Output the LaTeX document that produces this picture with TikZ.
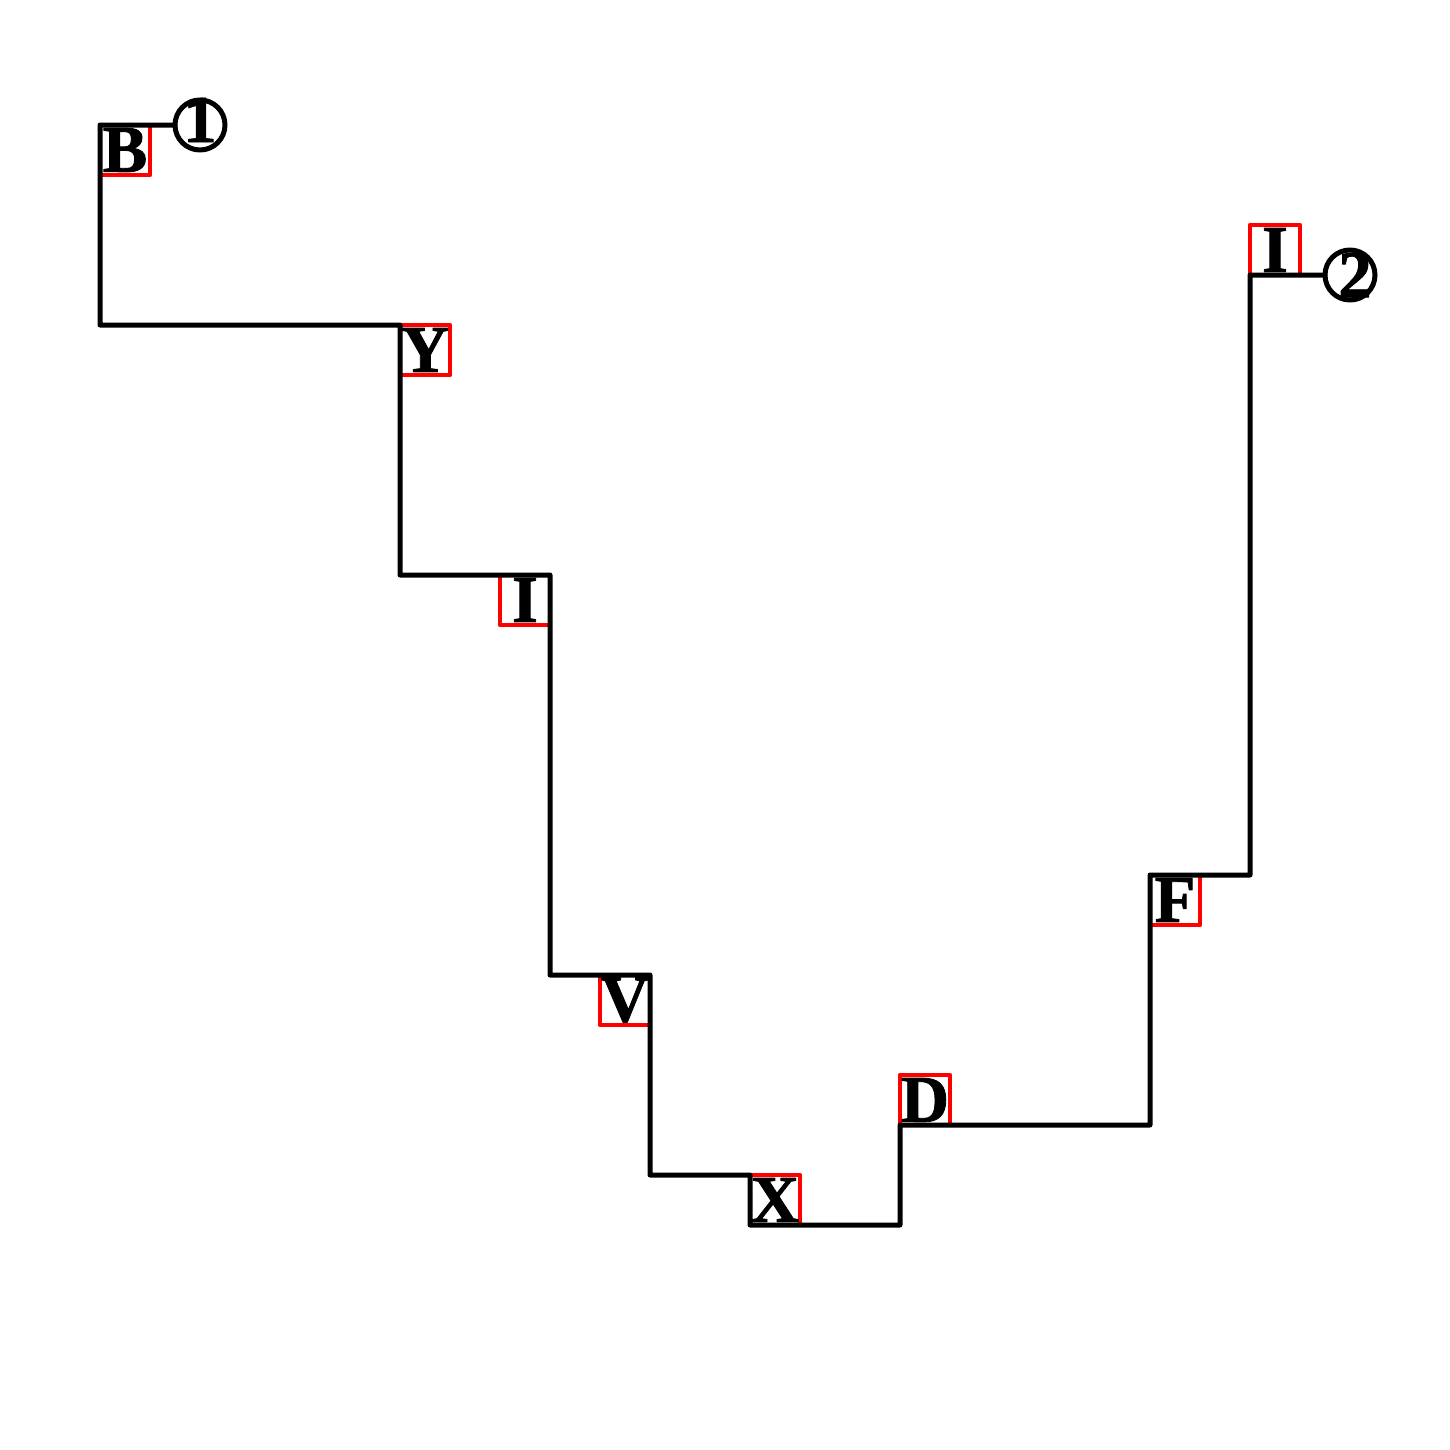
\documentclass[tikz,border=0pt]{standalone}
\usepackage{fontspec}
\usepackage{graphicx}
\newfontfamily\heavyfont{Liberation Serif}[FakeBold=1.2]
\newcommand{\glyphtext}[1]{{\heavyfont\bfseries\fontsize{38}{38}\selectfont #1}}
\begin{document}
\begin{tikzpicture}[x=1cm,y=-1cm,line join=round,line cap=round,
  cell/.style={draw=red,line width=0.085cm,minimum size=1cm,inner sep=0pt,outer sep=0pt},
  glyph/.style={inner sep=0pt,outer sep=0pt},
  pin/.style={draw,circle,line width=0.1cm,minimum size=1cm,inner sep=0pt,outer sep=0pt},
  wire/.style={draw,line width=0.1cm}]
\useasboundingbox[fill=white] (0,0) rectangle (29,29);
% cells
\node[cell] (B) at (2.5,3) {};
\node[cell] (Y) at (8.5,7) {};
\node[cell] (I) at (10.5,12) {};
\node[cell] (V) at (12.5,20) {};
\node[cell] (X) at (15.5,24) {};
\node[cell] (D) at (18.5,22) {};
\node[cell] (F) at (23.5,18) {};
\node[cell] (J) at (25.5,5) {};
% terminals
\node[pin] (c1) at (4,2.5) {};
\node[pin] (c2) at (27,5.5) {};
% wire
\path[wire] (c1.west) -- (B.north west) -- (B.north west |- Y.north west) -- (Y.north west)
  -- (Y.north west |- I.north east) -- (I.north east)
  -- (I.north east |- V.north east) -- (V.north east)
  -- (V.north east |- X.north west) -- (X.north west) -- (X.south west)
  -- (D.south west |- X.south west) -- (D.south west)
  -- (F.north west |- D.south west) -- (F.north west)
  -- (J.south west |- F.north west) -- (J.south west) -- (c2.west);
% letters
\node[glyph] (tB) at (B.center) {\glyphtext{B}};
\node[glyph] (tY) at (Y.center) {\glyphtext{Y}};
\node[glyph] (tI) at (I.center) {\glyphtext{I}};
\node[glyph] (tV) at (V.center) {\glyphtext{V}};
\node[glyph] (tX) at (X.center) {\glyphtext{X}};
\node[glyph] (tD) at (D.center) {\glyphtext{D}};
\node[glyph] (tF) at (F.center) {\glyphtext{F}};
\node[glyph] (tJ) at (J.center) {\glyphtext{I}};
\node[glyph] (t1) at ([yshift=0.1cm]c1.center) {\glyphtext{1}};
\node[glyph] (t2) at ([xshift=0.1cm]c2.center) {\glyphtext{2}};
\end{tikzpicture}
\end{document}
